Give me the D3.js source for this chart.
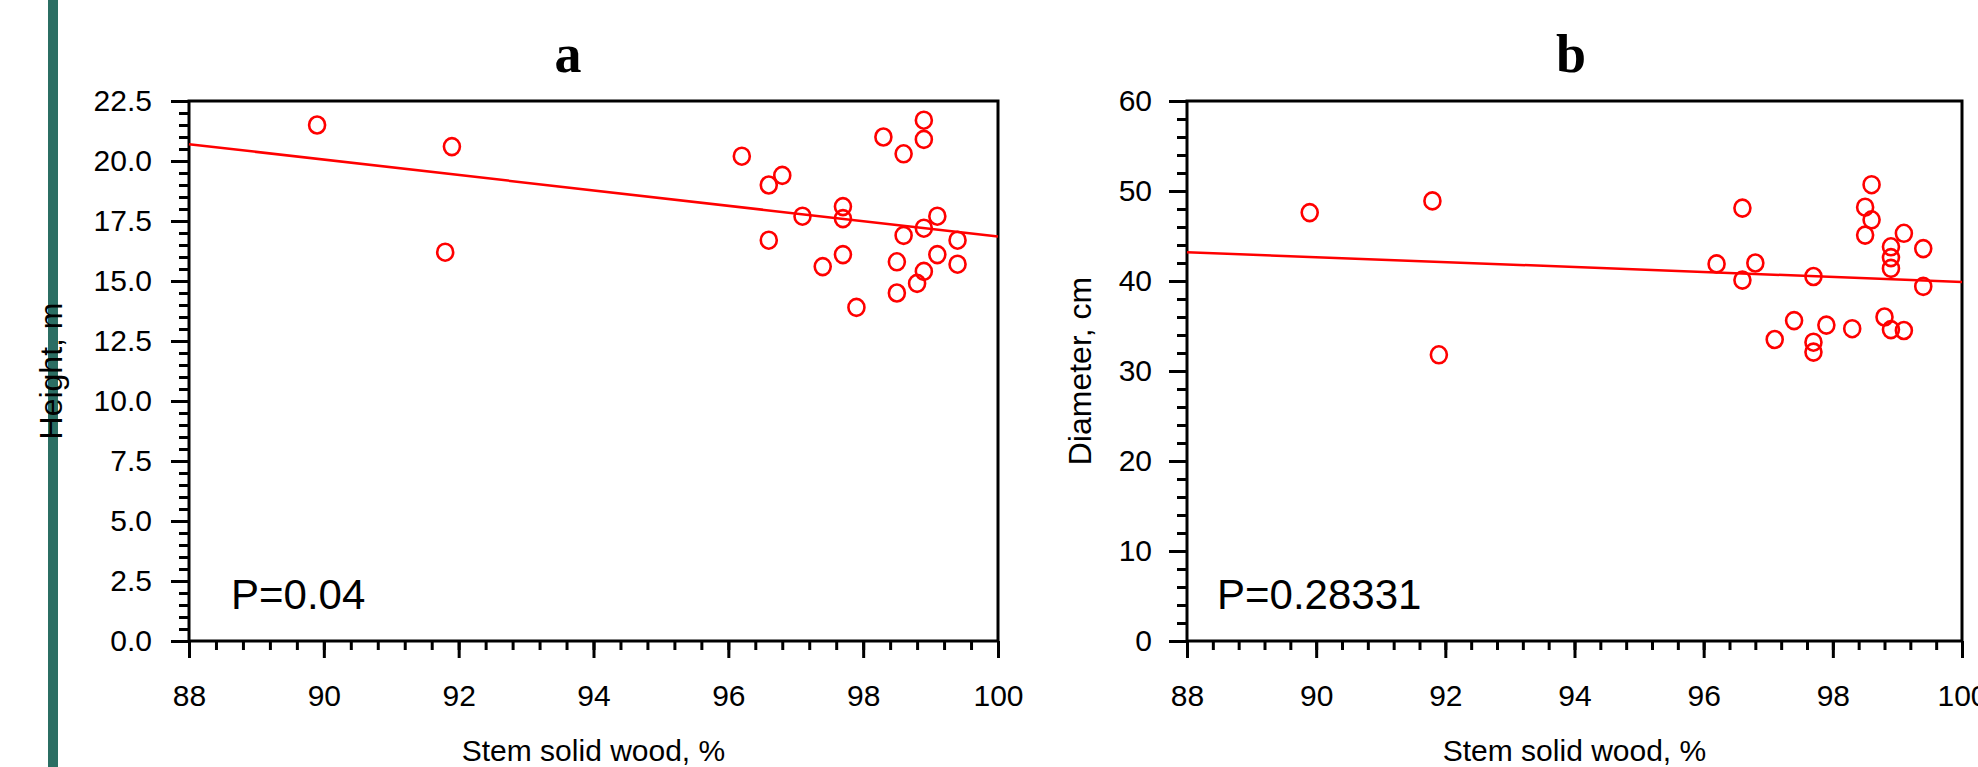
<!DOCTYPE html>
<html>
<head>
<meta charset="utf-8">
<script src="https://cdn.jsdelivr.net/npm/d3@7"></script>
<style>
  body { margin: 0; background: #fff; }
</style>
</head>
<body>
<svg id="chart" width="1978" height="767"></svg>
<script>
// panel a: stem solid wood (%) vs height (m)
const stemA = [89.9, 91.9, 91.8, 96.2, 96.6, 96.8, 96.6, 97.1, 97.7, 97.7, 97.7, 97.4, 97.9, 98.3,
               98.6, 98.9, 98.9, 99.1, 98.9, 98.6, 99.4, 99.1, 98.5, 99.4, 98.9, 98.8, 98.5];
const heightA = [21.5, 20.6, 16.2, 20.2, 19.0, 19.4, 16.7, 17.7, 18.1, 17.6, 16.1, 15.6, 13.9, 21.0,
                 20.3, 21.7, 20.9, 17.7, 17.2, 16.9, 16.7, 16.1, 15.8, 15.7, 15.4, 14.9, 14.5];
const fitA = [[88, 20.7], [100, 16.85]];
const pA = "P=0.04";

// panel b: stem solid wood (%) vs diameter (cm)
const stemB = [89.9, 91.8, 91.9, 96.2, 96.6, 96.6, 96.8, 97.7, 97.1, 97.4, 97.7, 97.7, 97.9, 98.3,
               98.6, 98.5, 98.6, 98.5, 99.1, 98.9, 98.9, 98.9, 99.4, 99.4, 98.8, 98.9, 99.1];
const diamB = [47.6, 48.9, 31.8, 41.9, 48.1, 40.1, 42.0, 40.5, 33.5, 35.6, 33.2, 32.1, 35.1, 34.7,
               50.7, 48.2, 46.8, 45.1, 45.3, 43.8, 42.6, 41.4, 43.6, 39.4, 36.0, 34.6, 34.5];
const fitB = [[88, 43.2], [100, 39.9]];
const pB = "P=0.28331";

const xTicks = [88, 90, 92, 94, 96, 98, 100];
const yTicksA = [0, 2.5, 5, 7.5, 10, 12.5, 15, 17.5, 20, 22.5];
const yTicksB = [0, 10, 20, 30, 40, 50, 60];

const sans = '"Liberation Sans", Arial, sans-serif';
const serif = '"Liberation Serif", "Times New Roman", serif';

const svg = d3.select('#chart');
svg.append('rect').attr('width', 1978).attr('height', 767).attr('fill', '#fff');

// green stripe at the left edge
svg.append('rect')
    .attr('x', 48).attr('y', 0)
    .attr('width', 10).attr('height', 767)
    .attr('fill', '#2b6e63');

function drawPanel(cfg) {
    let x = d3.scaleLinear().domain([88, 100]).range([cfg.left, cfg.right]);
    let y = d3.scaleLinear().domain([0, cfg.yMax]).range([641, 101]);

    let g = svg.append('g');

    // minor ticks
    g.append('g')
        .attr('transform', 'translate(0,641)')
        .call(d3.axisBottom(x).tickValues(d3.range(88, 100.01, 0.4)).tickSize(9).tickFormat(''));
    g.append('g')
        .attr('transform', 'translate(' + cfg.left + ',0)')
        .call(d3.axisLeft(y).tickValues(d3.range(0, cfg.yMax + 0.001, cfg.yMinor)).tickSize(10).tickFormat(''));

    // major ticks + labels
    let xAxis = g.append('g')
        .attr('transform', 'translate(0,641)')
        .call(d3.axisBottom(x).tickValues(xTicks).tickSize(17).tickPadding(27).tickFormat(d3.format('d')));
    let yAxis = g.append('g')
        .attr('transform', 'translate(' + cfg.left + ',0)')
        .call(d3.axisLeft(y).tickValues(cfg.yTicks).tickSize(18).tickPadding(cfg.yPad).tickFormat(cfg.yFormat));

    g.selectAll('.domain').remove();
    g.selectAll('.tick line').attr('stroke', '#000').attr('stroke-width', 3);
    [xAxis, yAxis].forEach(function(a) {
        a.attr('font-size', null).attr('font-family', null);
        a.selectAll('text').style('font-family', sans).attr('font-size', 30).attr('fill', '#000');
    });

    // frame
    g.append('rect')
        .attr('x', cfg.left).attr('y', 101)
        .attr('width', cfg.right - cfg.left).attr('height', 540)
        .attr('fill', 'none').attr('stroke', '#000').attr('stroke-width', 3);

    // fit line
    let line = d3.line()
        .x(function(d) { return x(d[0]); })
        .y(function(d) { return y(d[1]); });
    g.append('path')
        .attr('d', line(cfg.fit))
        .attr('fill', 'none').attr('stroke', '#ff0000').attr('stroke-width', 2.5);

    // points
    g.selectAll('.dot')
        .data(cfg.xs)
        .enter()
        .append('ellipse')
        .attr('cx', function(d) { return x(d); })
        .attr('cy', function(d, i) { return y(cfg.ys[i]); })
        .attr('rx', 8).attr('ry', 8.5)
        .attr('fill', 'none').attr('stroke', '#ff0000').attr('stroke-width', 2.6);

    // P value
    g.append('text')
        .attr('x', cfg.left + cfg.pOffset).attr('y', 609)
        .style('font-family', sans).attr('font-size', 42)
        .text(cfg.p);

    // axis titles
    g.append('text')
        .attr('x', (cfg.left + cfg.right) / 2).attr('y', 761)
        .attr('text-anchor', 'middle')
        .style('font-family', sans).attr('font-size', 30)
        .text('Stem solid wood, %');
    g.append('text')
        .attr('transform', 'translate(' + cfg.yTitleX + ',371) rotate(-90)')
        .attr('text-anchor', 'middle')
        .style('font-family', sans).attr('font-size', 32)
        .text(cfg.yTitle);

    // panel letter
    g.append('text')
        .attr('x', cfg.letterX).attr('y', 72)
        .attr('text-anchor', 'middle')
        .style('font-family', serif)
        .attr('font-weight', 'bold').attr('font-size', 54)
        .text(cfg.letter);
}

drawPanel({
    left: 189, right: 998, yMax: 22.5, yMinor: 0.5, yTicks: yTicksA, yPad: 19,
    yFormat: d3.format('.1f'), xs: stemA, ys: heightA, fit: fitA, p: pA, pOffset: 42,
    yTitle: 'Height, m', yTitleX: 62, letter: 'a', letterX: 568
});

drawPanel({
    left: 1187, right: 1962, yMax: 60, yMinor: 2, yTicks: yTicksB, yPad: 17,
    yFormat: d3.format('d'), xs: stemB, ys: diamB, fit: fitB, p: pB, pOffset: 30,
    yTitle: 'Diameter, cm', yTitleX: 1091, letter: 'b', letterX: 1571
});
</script>
</body>
</html>
